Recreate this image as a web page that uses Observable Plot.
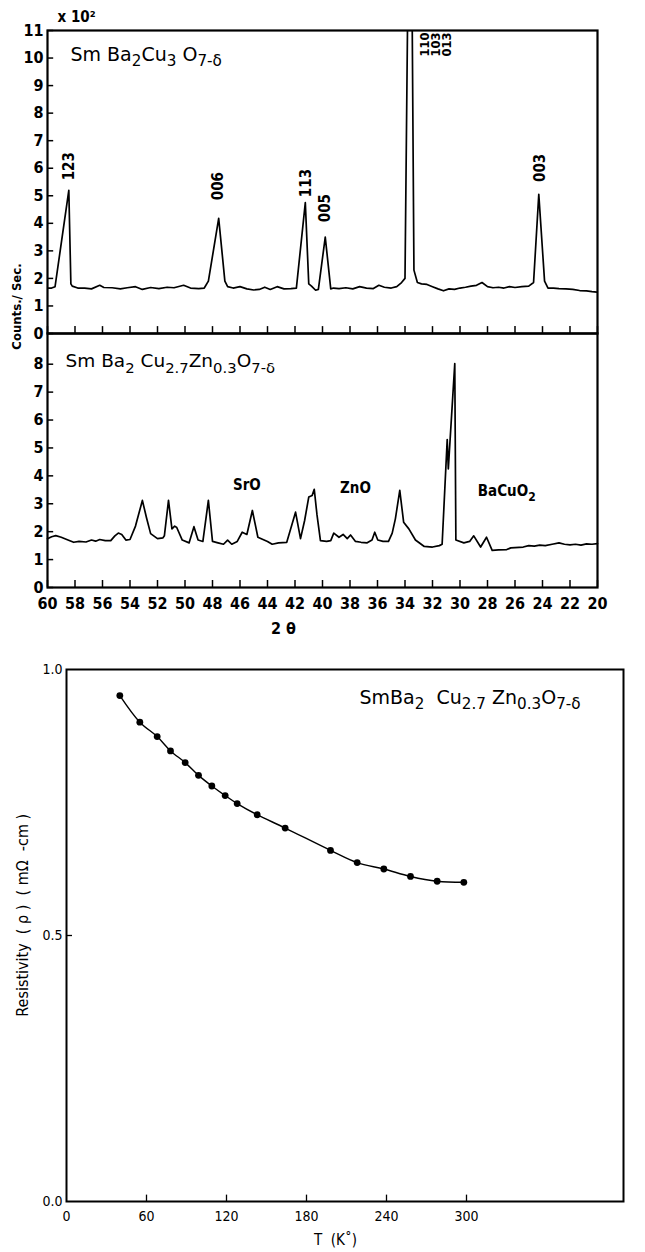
<!DOCTYPE html>
<html><head><meta charset="utf-8">
<script src="https://cdn.jsdelivr.net/npm/d3@7"></script>
<script src="https://cdn.jsdelivr.net/npm/@observablehq/plot@0.6"></script>
<style>
body{margin:0;background:#fff;}
#wrap{position:relative;width:645px;height:1252px;overflow:hidden;background:#fff;}
.panel{position:absolute;left:0;}
</style></head><body><div id="wrap">
<div class="panel" id="p2" style="top:329px"></div>
<div class="panel" id="p1" style="top:0px"></div>
<div class="panel" id="p3" style="top:650px"></div>
</div>
<script>
// ---------- DATA ----------
// XRD, SmBa2Cu3O7-δ (counts x 10^2 per second vs 2θ)
const thetaA = [60.0,59.7,59.45,58.45,58.3,58.2,57.8,57.3,56.8,56.2,55.9,55.3,54.7,54.2,53.6,53.1,52.5,51.9,51.3,50.8,50.1,49.6,49.0,48.6,48.3,47.55,47.1,46.9,46.5,46.0,45.5,45.0,44.6,44.2,43.8,43.3,42.8,42.3,41.9,41.25,41.0,40.8,40.5,40.3,39.8,39.4,39.2,38.8,38.3,37.8,37.3,36.8,36.3,35.9,35.5,35.0,34.6,34.25,34.0,33.78,33.5,33.35,33.1,32.8,32.4,32.0,31.6,31.2,30.8,30.4,30.0,29.6,29.2,28.8,28.4,28.0,27.6,27.2,26.8,26.4,26.0,25.5,25.0,24.65,24.27,23.85,23.6,23.2,22.8,22.3,21.8,21.3,20.8,20.4,20.0];
const countsA = [1.65,1.65,1.7,5.2,1.8,1.72,1.65,1.65,1.62,1.75,1.67,1.66,1.62,1.66,1.7,1.6,1.67,1.63,1.68,1.66,1.75,1.65,1.63,1.65,1.9,4.18,1.9,1.7,1.65,1.7,1.62,1.58,1.6,1.68,1.6,1.7,1.62,1.63,1.65,4.75,1.8,1.72,1.57,1.6,3.5,1.62,1.65,1.63,1.66,1.62,1.7,1.65,1.63,1.75,1.68,1.65,1.7,1.85,2.0,13,13,2.3,1.85,1.8,1.78,1.7,1.62,1.55,1.62,1.6,1.65,1.68,1.72,1.75,1.85,1.7,1.66,1.68,1.65,1.7,1.67,1.7,1.72,1.85,5.05,1.9,1.65,1.65,1.63,1.62,1.6,1.56,1.55,1.52,1.5];
// XRD, SmBa2Cu2.7Zn0.3O7-δ
const thetaB = [60.0,59.7,59.4,59.0,58.6,58.1,57.7,57.2,56.8,56.5,56.2,55.8,55.4,55.1,54.85,54.6,54.3,54.0,53.6,53.1,52.8,52.5,52.0,51.6,51.5,51.2,50.95,50.75,50.6,50.2,49.7,49.35,49.05,48.7,48.3,48.0,47.6,47.2,46.9,46.6,46.2,45.84,45.5,45.1,44.7,44.0,43.66,43.2,42.6,41.96,41.6,41.3,41.0,40.75,40.6,40.4,40.15,39.7,39.4,39.18,38.8,38.5,38.2,37.96,37.6,37.2,36.75,36.4,36.2,35.98,35.6,35.2,34.93,34.7,34.38,34.1,33.72,33.24,32.6,32.0,31.5,31.3,30.93,30.85,30.38,30.3,29.72,29.3,29.0,28.5,28.07,27.66,27.2,26.6,26.3,26.0,25.4,25.0,24.6,24.2,23.8,23.3,22.8,22.4,22.0,21.6,21.2,20.8,20.4,20.0];
const countsB = [1.75,1.82,1.86,1.8,1.72,1.62,1.65,1.63,1.7,1.66,1.72,1.68,1.68,1.85,1.95,1.9,1.7,1.72,2.2,3.12,2.5,1.93,1.75,1.78,1.85,3.12,2.1,2.2,2.15,1.7,1.6,2.18,1.7,1.65,3.12,1.65,1.6,1.55,1.7,1.55,1.65,1.98,1.9,2.76,1.8,1.65,1.55,1.6,1.62,2.7,1.75,2.4,3.24,3.3,3.52,2.6,1.68,1.65,1.68,1.95,1.8,1.9,1.75,1.88,1.65,1.62,1.6,1.7,1.98,1.7,1.65,1.65,1.95,2.46,3.48,2.34,2.1,1.7,1.47,1.45,1.5,1.55,5.3,4.25,8.02,1.7,1.6,1.65,1.85,1.45,1.8,1.33,1.35,1.36,1.42,1.43,1.45,1.5,1.48,1.52,1.5,1.55,1.6,1.55,1.53,1.55,1.52,1.56,1.55,1.57];
// Resistivity vs temperature
const tempK = [40,55,68,78,89,99,109,119,128,143,164,198,218,238,258,278,298];
const rho   = [0.951,0.901,0.874,0.847,0.825,0.801,0.781,0.763,0.748,0.727,0.702,0.660,0.637,0.625,0.611,0.602,0.600];

// tick values / labels
const thetaTicks = [60,58,56,54,52,50,48,46,44,42,40,38,36,34,32,30,28,26,24,22,20];
const countTicksA = [0,1,2,3,4,5,6,7,8,9,10,11];
const countTicksB = [0,1,2,3,4,5,6,7,8];
const tempTicks = [0,60,120,180,240,300];
const tempInnerTicks = [60,120,180,240,300];
const rhoTicks = [0,0.5,1.0];
const rhoInnerTicks = [0.5];

// text
const peakLabelsA = ["123","006","113","005","003"];
const peakThetaA  = [58.45,47.6,41.2,39.8,24.2];
const peakTopA    = [5.56,4.84,4.95,4.04,5.5];
const groupLabelsA = ["110","103","013"];
const groupThetaA  = [32.5,31.72,30.94];
const phaseLabelsB = ["SrO","ZnO","BaCuO_{2}"];
const phaseThetaB  = [45.5,37.6,26.6];
const phaseYB      = [3.66,3.55,3.44];
const formulaA = "Sm Ba_{2}Cu_{3} O_{7-δ}";
const formulaB = "Sm Ba_{2} Cu_{2.7}Zn_{0.3}O_{7-δ}";
const formulaC = "SmBa_{2}  Cu_{2.7} Zn_{0.3}O_{7-δ}";
const yLabelXRD = "Counts./ Sec.";
const scaleLabelXRD = "x 10²";
const xLabelXRD = "2 θ";
const xLabelRho = "T  (K˚)";
const yLabelRho = "Resistivity  ( ρ )  ( mΩ  -cm )";

// ---------- DRAW ----------
const fontFam = "'DejaVu Sans Condensed','DejaVu Sans',sans-serif";
const wideFam = "'DejaVu Sans',sans-serif";
const baseStyle = {background: "transparent", fontFamily: fontFam, color: "black", overflow: "visible"};
const rowsA = thetaA.map((t, i) => ({t, c: countsA[i]}));
const rowsB = thetaB.map((t, i) => ({t, c: countsB[i]}));
const rowsC = tempK.map((T, i) => ({T, r: rho[i]}));
const peaksA = peakLabelsA.map((s, i) => ({s, t: peakThetaA[i], y: peakTopA[i]}));
const groupA = groupLabelsA.map((s, i) => ({s, t: groupThetaA[i]}));
const phasesB = phaseLabelsB.map((s, i) => ({s, t: phaseThetaB[i], y: phaseYB[i]}));

const p1 = Plot.plot({
  width: 645, height: 345,
  marginTop: 30, marginBottom: 12, marginLeft: 47, marginRight: 48,
  x: {domain: [60, 20], axis: null},
  y: {domain: [0, 11]},
  style: baseStyle,
  marks: [
    Plot.line(rowsA, {x: "t", y: "c", stroke: "black", strokeWidth: 1.7, clip: true}),
    Plot.ruleY(countTicksA, {y: d => d, x1: () => 60, x2: () => 59.55, stroke: "black", strokeWidth: 1.5}),
    Plot.ruleX(thetaTicks, {x: d => d, y1: () => 0, y2: () => 0.25, stroke: "black", strokeWidth: 1.5}),
    Plot.axisY({ticks: countTicksA, tickSize: 0, tickPadding: 4, fontSize: 16, fontWeight: "bold", label: null}),
    Plot.frame({stroke: "black", strokeWidth: 2.2}),
    Plot.text(peaksA, {x: "t", y: "y", text: "s", rotate: -90, textAnchor: "start", lineAnchor: "middle", fontSize: 15, fontWeight: "bold"}),
    Plot.text(groupA, {x: "t", y: () => 10.93, text: "s", rotate: -90, textAnchor: "end", lineAnchor: "middle", fontSize: 11.5, fontWeight: "bold", fontFamily: wideFam}),
    Plot.text([formulaA], {x: () => 58.33, y: () => 10.13, text: d => d, textAnchor: "start", fontSize: 19, fontFamily: wideFam}),
    Plot.text([scaleLabelXRD], {x: () => 59.27, y: () => 11.5, text: d => d, textAnchor: "start", fontSize: 15, fontWeight: "bold"}),
    Plot.text([yLabelXRD], {x: () => 62.25, y: () => 0.98, text: d => d, rotate: -90, fontSize: 13, fontWeight: "bold"})
  ]
});

const p2 = Plot.plot({
  width: 645, height: 316,
  marginTop: 4, marginBottom: 58, marginLeft: 47, marginRight: 48,
  x: {domain: [60, 20]},
  y: {domain: [0, 9.1]},
  style: baseStyle,
  marks: [
    Plot.line(rowsB, {x: "t", y: "c", stroke: "black", strokeWidth: 1.7}),
    Plot.ruleY(countTicksB, {y: d => d, x1: () => 60, x2: () => 59.55, stroke: "black", strokeWidth: 1.5}),
    Plot.ruleX(thetaTicks, {x: d => d, y1: () => 0, y2: () => 0.25, stroke: "black", strokeWidth: 1.5}),
    Plot.axisY({ticks: countTicksB, tickSize: 0, tickPadding: 4, fontSize: 16, fontWeight: "bold", label: null}),
    Plot.axisX({ticks: thetaTicks, tickSize: 0, tickPadding: 10, fontSize: 16, fontWeight: "bold", label: null}),
    Plot.frame({stroke: "black", strokeWidth: 2.2}),
    Plot.text([formulaB], {x: () => 58.69, y: () => 8.1, text: d => d, textAnchor: "start", fontSize: 18.5, fontFamily: wideFam}),
    Plot.text(phasesB, {x: "t", y: "y", text: "s", fontSize: 15, fontWeight: "bold"}),
    Plot.text([xLabelXRD], {x: () => 42.84, y: () => -1.47, text: d => d, fontSize: 16, fontWeight: "bold"})
  ]
});

const p3 = Plot.plot({
  width: 645, height: 602,
  marginTop: 19, marginBottom: 51, marginLeft: 66, marginRight: 22,
  x: {domain: [0, 417.75]},
  y: {domain: [0, 1]},
  style: baseStyle,
  marks: [
    Plot.line(rowsC, {x: "T", y: "r", stroke: "black", strokeWidth: 1.4, curve: "catmull-rom"}),
    Plot.dot(rowsC, {x: "T", y: "r", r: 3.4, fill: "black", stroke: "none"}),
    Plot.ruleX(tempInnerTicks, {x: d => d, y1: () => 0, y2: () => 0.012, stroke: "black", strokeWidth: 1.3}),
    Plot.ruleY(rhoInnerTicks, {y: d => d, x1: () => 0, x2: () => 4.5, stroke: "black", strokeWidth: 1.3}),
    Plot.axisY({ticks: rhoTicks, tickSize: 0, tickPadding: 4, fontSize: 14, tickFormat: d3.format(".1f"), label: null}),
    Plot.axisX({ticks: tempTicks, tickSize: 0, tickPadding: 10, fontSize: 14, label: null}),
    Plot.frame({stroke: "black", strokeWidth: 2}),
    Plot.text([formulaC], {x: () => 219.75, y: () => 0.947, text: d => d, textAnchor: "start", fontSize: 19, fontFamily: wideFam}),
    Plot.text([xLabelRho], {x: () => 201.7, y: () => -0.073, text: d => d, fontSize: 15}),
    Plot.text([yLabelRho], {x: () => -33, y: () => 0.538, text: d => d, rotate: -90, fontSize: 16})
  ]
});

document.getElementById("p1").appendChild(p1);
document.getElementById("p2").appendChild(p2);
document.getElementById("p3").appendChild(p3);

// sub/superscript markup -> tspans
function richText(svg) {
  d3.select(svg).selectAll("text").each(function() {
    const t = this.textContent;
    if (!/[_^]\{/.test(t)) return;
    const fs = parseFloat(getComputedStyle(this).fontSize) || 16;
    const el = d3.select(this);
    el.selectAll("*").remove();
    this.textContent = "";
    const re = /([_^])\{([^}]*)\}|([^_^]+)/g;
    let m, shift = 0;
    while ((m = re.exec(t)) !== null) {
      const ts = el.append("tspan");
      if (m[1]) {
        const target = m[1] === "_" ? 0.3 * fs : -0.38 * fs;
        const dy = target - shift;
        if (dy) ts.attr("dy", dy);
        shift = target;
        ts.attr("font-size", 0.8 * fs).text(m[2]);
      } else {
        if (shift) ts.attr("dy", -shift);
        shift = 0;
        ts.text(m[3]);
      }
    }
  });
}
[p1, p2, p3].forEach(richText);
</script>
</body></html>
